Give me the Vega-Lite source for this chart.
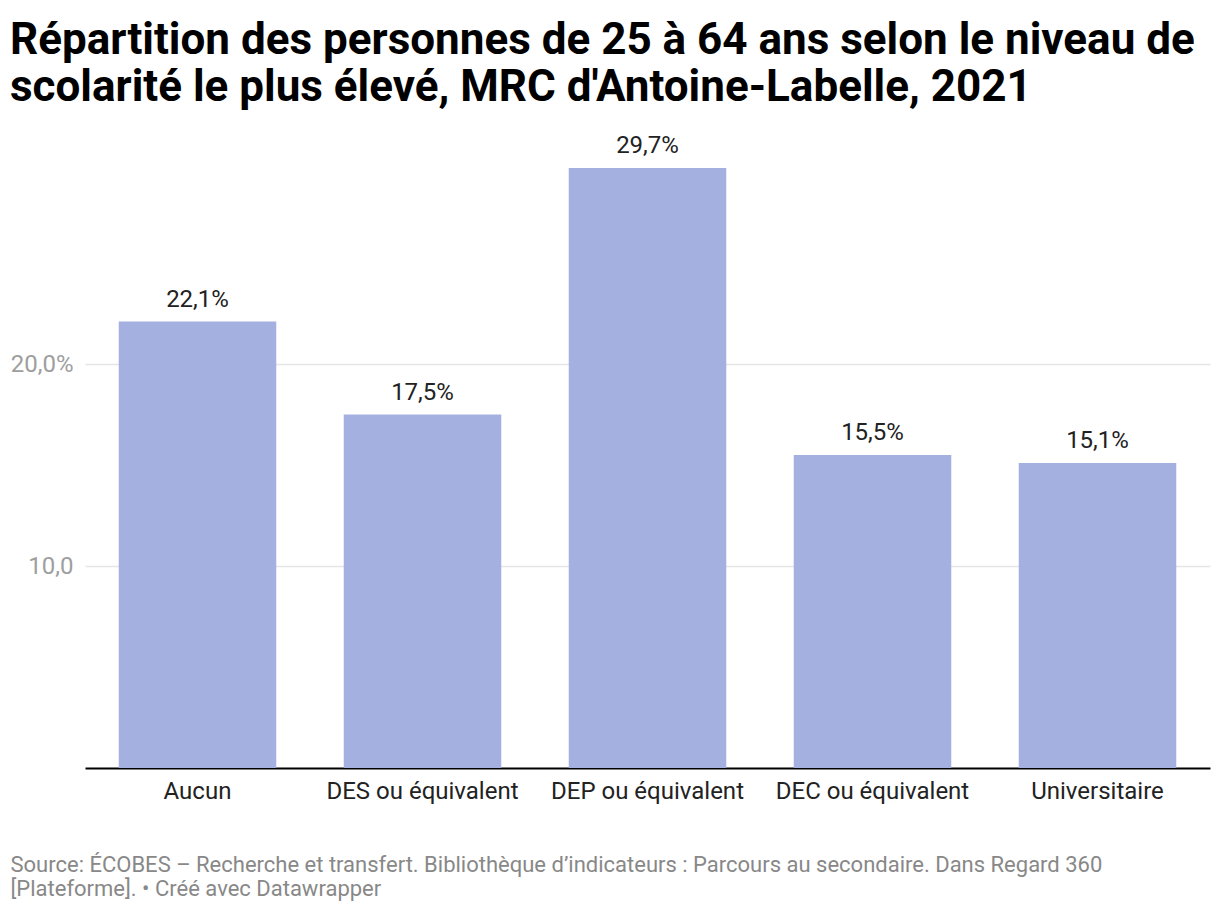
{
  "$schema": "https://vega.github.io/schema/vega-lite/v6.json",
  "width": 1125,
  "height": 606,
  "autosize": {"type": "none"},
  "padding": {"left": 85, "top": 162, "right": 10, "bottom": 146},
  "background": "white",
  "title": {
    "text": ["Répartition des personnes de 25 à 64 ans selon le niveau de", "scolarité le plus élevé, MRC d'Antoine-Labelle, 2021"],
    "anchor": "start",
    "frame": "group",
    "dx": -75,
    "dy": 8,
    "font": "Roboto",
    "fontSize": 44,
    "fontWeight": "bold",
    "color": "#000000",
    "lineHeight": 47,
    "baseline": "alphabetic",
    "offset": -3
  },
  "data": {
    "values": [
      {"niveau": "Aucun", "valeur": 22.1, "label": "22,1%"},
      {"niveau": "DES ou équivalent", "valeur": 17.5, "label": "17,5%"},
      {"niveau": "DEP ou équivalent", "valeur": 29.7, "label": "29,7%"},
      {"niveau": "DEC ou équivalent", "valeur": 15.5, "label": "15,5%"},
      {"niveau": "Universitaire", "valeur": 15.1, "label": "15,1%"}
    ]
  },
  "encoding": {
    "x": {
      "field": "niveau",
      "type": "nominal",
      "sort": null,
      "scale": {"paddingInner": 0.3, "paddingOuter": 0.15},
      "axis": {
        "title": ["Source: ÉCOBES – Recherche et transfert. Bibliothèque d’indicateurs : Parcours au secondaire. Dans Regard 360", "[Plateforme]. • Créé avec Datawrapper"],
        "titleFont": "Roboto",
        "titleFontSize": 22,
        "titleFontWeight": "normal",
        "titleColor": "#888888",
        "titleAnchor": "start",
        "titleAlign": "left",
        "titleBaseline": "alphabetic",
        "titleLineHeight": 24,
        "titleX": -75,
        "titleY": 103,
        "labelAngle": 0,
        "labelFont": "Roboto",
        "labelFontSize": 24,
        "labelColor": "#222222",
        "labelBaseline": "alphabetic",
        "labelPadding": 30,
        "labelLimit": 0,
        "labelOverlap": false,
        "ticks": false,
        "domainColor": "#000000",
        "domainWidth": 2,
        "grid": false
      }
    },
    "y": {
      "field": "valeur",
      "type": "quantitative",
      "scale": {"domain": [0, 30], "nice": false},
      "axis": {
        "title": null,
        "values": [10, 20],
        "labelExpr": "datum.value == 20 ? '20,0%' : '10,0'",
        "labelFont": "Roboto",
        "labelFontSize": 24,
        "labelColor": "#9e9e9e",
        "labelPadding": 12,
        "ticks": false,
        "domain": false,
        "grid": true,
        "gridColor": "#e5e5e5",
        "gridWidth": 1.5
      }
    }
  },
  "layer": [
    {"mark": {"type": "bar", "color": "#a4b0e0"}},
    {
      "mark": {"type": "text", "baseline": "alphabetic", "dy": -15, "font": "Roboto", "fontSize": 24, "color": "#222222"},
      "encoding": {"text": {"field": "label"}}
    }
  ],
  "config": {"view": {"stroke": null}}
}
